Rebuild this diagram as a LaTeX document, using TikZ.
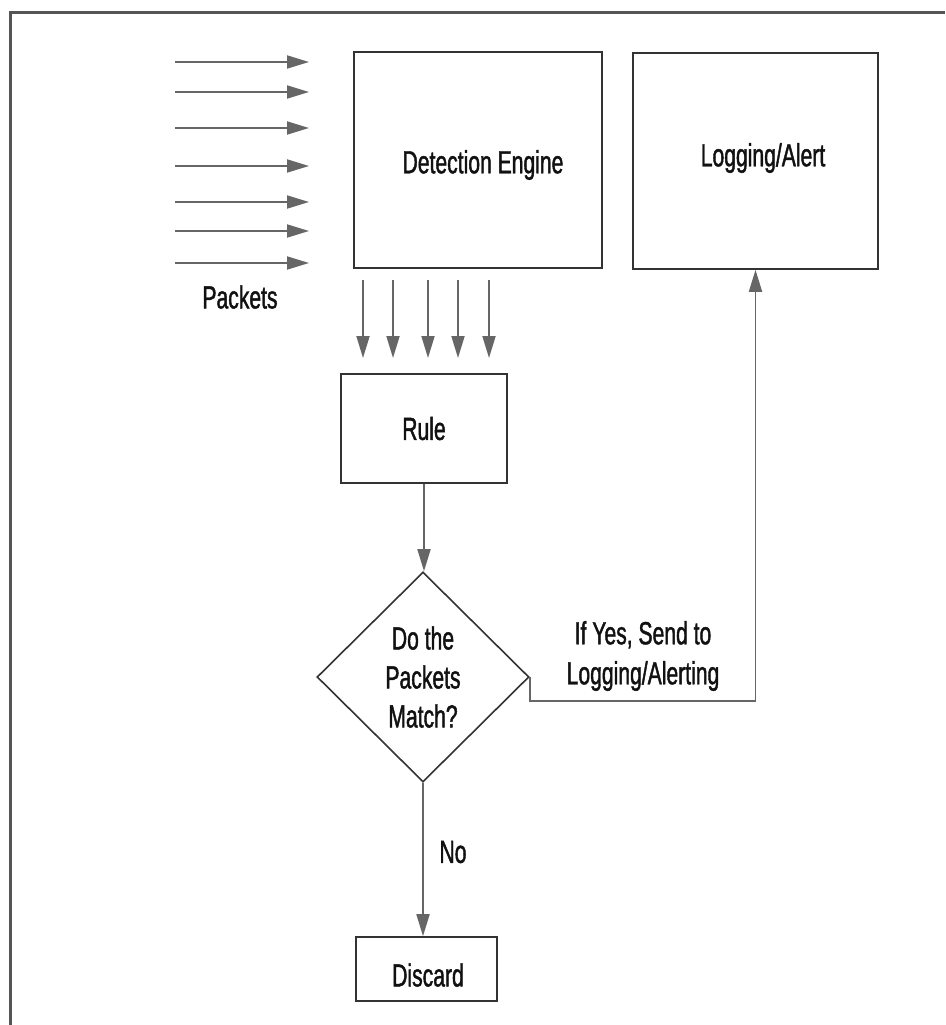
\documentclass[tikz,border=0pt]{standalone}
\usepackage{fontspec}
\setmainfont{Liberation Sans}[FakeStretch=0.66,FakeBold=1.3,AutoFakeBold=0]
\usetikzlibrary{arrows.meta,shapes.geometric}
\definecolor{boxline}{HTML}{333333}
\definecolor{arrowgrey}{HTML}{666666}
\definecolor{framegrey}{HTML}{555555}
\definecolor{txt}{HTML}{111111}
\begin{document}
\begin{tikzpicture}[x=1pt,y=-1pt,
  every node/.style={font=\fontsize{32}{40}\selectfont, text=txt},
  box/.style={draw=boxline, line width=1.6pt, rectangle, inner sep=0pt},
  decision/.style={draw=boxline, line width=1.6pt, diamond, inner sep=0pt, align=center,
     font=\fontsize{32}{39}\selectfont},
  flow/.style={draw=arrowgrey, line width=1.8pt, -{Triangle[length=22pt,width=13pt]}},
  lbl/.style={align=center}]
\useasboundingbox (0,0) rectangle (945,1025);
\draw[framegrey, line width=3pt] (10,1025) -- (10,13) -- (945,13);

\node[box, minimum width=248pt, minimum height=216pt] (de) at (478,160) {};
\node (detxt) at (483,165) {Detection Engine};
\node[box, minimum width=245pt, minimum height=216pt] (la) at (755.5,161) {};
\node (latxt) at (763,158) {Logging/Alert};
\node[box, minimum width=166pt, minimum height=109pt] (rule) at (424,428.5) {Rule};
\node[decision, minimum width=212pt, minimum height=210pt] (dia) at (423,677) {Do the\\Packets\\Match?};
\node[box, minimum width=141pt, minimum height=64pt] (disc) at (426.5,969) {};
\node (disctxt) at (428,975) {Discard};

\node (pk) at (240,297) {Packets};
\node[lbl] (yes) at (643,656) {If Yes, Send to\\Logging/Alerting};
\node (no) at (453,852) {No};

% packet arrows
\foreach \i/\y in {1/62,2/92,3/128,4/166,5/202,6/231,7/263}{
  \coordinate (ps\i) at (175,\y);
  \coordinate (pe\i) at (309,\y);
  \draw[flow] (ps\i) -- (pe\i);
}
% down arrows
\foreach \i/\x in {1/363,2/393,3/428,4/458,5/489}{
  \coordinate (ds\i) at (\x,280);
  \coordinate (de\i) at (\x,358);
  \draw[flow] (ds\i) -- (de\i);
}

\draw[flow] (rule.south) -- (rule.south |- dia.north);
\draw[flow] (dia.east) -- ++(0,24) -| (la.south);
\draw[flow] (dia.south) -- (dia.south |- disc.north);
\end{tikzpicture}
\end{document}
